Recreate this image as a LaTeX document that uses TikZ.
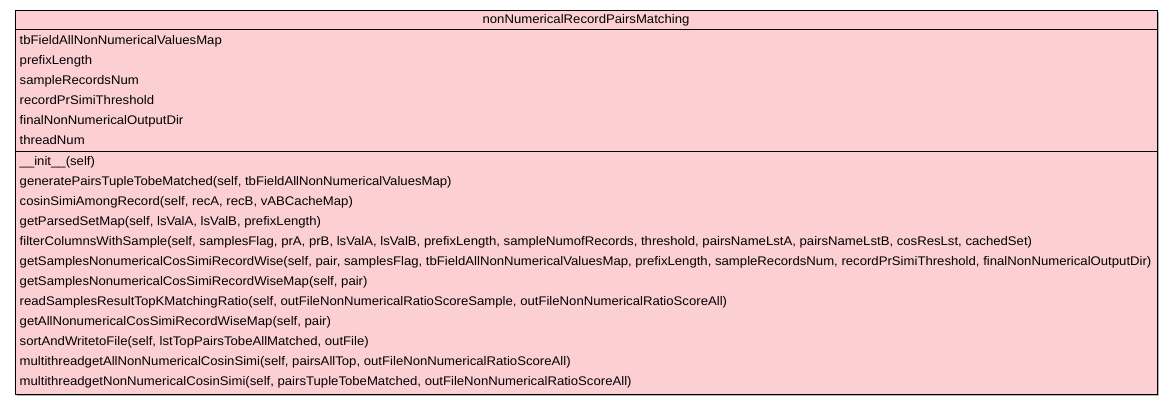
\documentclass[tikz,border=0pt]{standalone}
\usepackage{fontspec}
\setmainfont[FakeStretch=1.052]{Liberation Sans}
\definecolor{umlfill}{RGB}{252,208,211}
\begin{document}
\begin{tikzpicture}[x=1pt,y=-1pt,
  txt/.style={anchor=base west,inner sep=0pt,font=\fontsize{12.5}{14}\selectfont},
  ttl/.style={anchor=base,inner sep=0pt,font=\fontsize{12.5}{14}\selectfont}]
\useasboundingbox (0,0) rectangle (1173,405);
\fill[gray!60] (16.5,11.5) rectangle (1158.5,395.5);
\node[draw=black,line width=1pt,fill=umlfill,minimum width=1142pt,minimum height=384pt,inner sep=0pt,anchor=north west] (box) at (15,10) {};
\coordinate (d1l) at (15,29); \coordinate (d1r) at (1157,29);
\coordinate (d2l) at (15,151); \coordinate (d2r) at (1157,151);
\draw[line width=1pt] (d1l) -- (d1r);
\draw[line width=1pt] (d2l) -- (d2r);
\node[ttl] (title) at (586,23.5) {nonNumericalRecordPairsMatching};
\node[txt] (a1) at (19.5,44) {tbFieldAllNonNumericalValuesMap};
\node[txt] (a2) at (19.5,64) {prefixLength};
\node[txt] (a3) at (19.5,84) {sampleRecordsNum};
\node[txt] (a4) at (19.5,104) {recordPrSimiThreshold};
\node[txt] (a5) at (19.5,124) {finalNonNumericalOutputDir};
\node[txt] (a6) at (19.5,144) {threadNum};
\node[txt] (m1) at (19.5,165.5) {\_\_init\_\_(self)};
\node[txt] (m2) at (19.5,185.5) {generatePairsTupleTobeMatched(self, tbFieldAllNonNumericalValuesMap)};
\node[txt] (m3) at (19.5,205.5) {cosinSimiAmongRecord(self, recA, recB, vABCacheMap)};
\node[txt] (m4) at (19.5,225.5) {getParsedSetMap(self, lsValA, lsValB, prefixLength)};
\node[txt] (m5) at (19.5,245.5) {filterColumnsWithSample(self, samplesFlag, prA, prB, lsValA, lsValB, prefixLength, sampleNumofRecords, threshold, pairsNameLstA, pairsNameLstB, cosResLst, cachedSet)};
\node[txt] (m6) at (19.5,265.5) {getSamplesNonumericalCosSimiRecordWise(self, pair, samplesFlag, tbFieldAllNonNumericalValuesMap, prefixLength, sampleRecordsNum, recordPrSimiThreshold, finalNonNumericalOutputDir)};
\node[txt] (m7) at (19.5,285.5) {getSamplesNonumericalCosSimiRecordWiseMap(self, pair)};
\node[txt] (m8) at (19.5,305.5) {readSamplesResultTopKMatchingRatio(self, outFileNonNumericalRatioScoreSample, outFileNonNumericalRatioScoreAll)};
\node[txt] (m9) at (19.5,325.5) {getAllNonumericalCosSimiRecordWiseMap(self, pair)};
\node[txt] (m10) at (19.5,345.5) {sortAndWritetoFile(self, lstTopPairsTobeAllMatched, outFile)};
\node[txt] (m11) at (19.5,365.5) {multithreadgetAllNonNumericalCosinSimi(self, pairsAllTop, outFileNonNumericalRatioScoreAll)};
\node[txt] (m12) at (19.5,385.5) {multithreadgetNonNumericalCosinSimi(self, pairsTupleTobeMatched, outFileNonNumericalRatioScoreAll)};
\end{tikzpicture}
\end{document}
